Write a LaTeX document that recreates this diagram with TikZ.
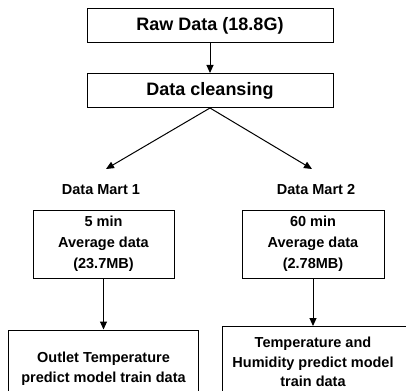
\documentclass[tikz,border=0pt]{standalone}
\usepackage{fontspec}
\setmainfont{Liberation Sans}
\usetikzlibrary{arrows.meta}
\begin{document}
\begin{tikzpicture}[x=1pt,y=-1pt,
 big/.style={draw, line width=1pt, inner sep=0pt, font=\bfseries\fontsize{18}{22}\selectfont, minimum width=246, minimum height=34},
 box/.style={draw, line width=1pt, inner sep=0pt, align=center, font=\bfseries\fontsize{14.5}{21}\selectfont},
 txt/.style={inner sep=0pt, align=center, font=\bfseries\fontsize{14.5}{19.5}\selectfont},
 lbl/.style={inner sep=0pt, font=\bfseries\fontsize{14.5}{18}\selectfont},
 arr/.style={line width=1pt, -{Triangle[length=8pt,width=7pt]}}]
\useasboundingbox (0,0) rectangle (406,390);
\node[big] (raw) at (210,26) {Raw Data (18.8G)};
\node[big] (clean) at (210,90.5) {Data cleansing};
\coordinate (t1) at (106,169);
\coordinate (t2) at (312,169);
\draw[arr] (raw.south) -- (clean.north);
\draw[arr] (clean.south) -- (t1);
\draw[arr] (clean.south) -- (t2);
\node[lbl] (dm1) at (101,190) {Data Mart 1};
\node[lbl] (dm2) at (316,190) {Data Mart 2};
\node[box, minimum width=141, minimum height=68] (b1) at (103.5,244) {5 min\\Average data\\(23.7MB)};
\node[box, minimum width=142, minimum height=68] (b2) at (313,244) {60 min\\Average data\\(2.78MB)};
\node[box, font=\bfseries\fontsize{14.5}{20}\selectfont, minimum width=190, minimum height=78] (b3) at (103.5,369) {Outlet Temperature\\predict model train data};
\node[draw, line width=1pt, inner sep=0pt, anchor=north west, minimum width=200, minimum height=84] (b4) at (222,326) {};
\node[txt] (t4) at (313,362) {Temperature and\\Humidity predict model\\train data};
\draw[arr] (b1.south) -- (b1.south |- b3.north);
\draw[arr] (b2.south) -- (b2.south |- b4.north);
\end{tikzpicture}
\end{document}
